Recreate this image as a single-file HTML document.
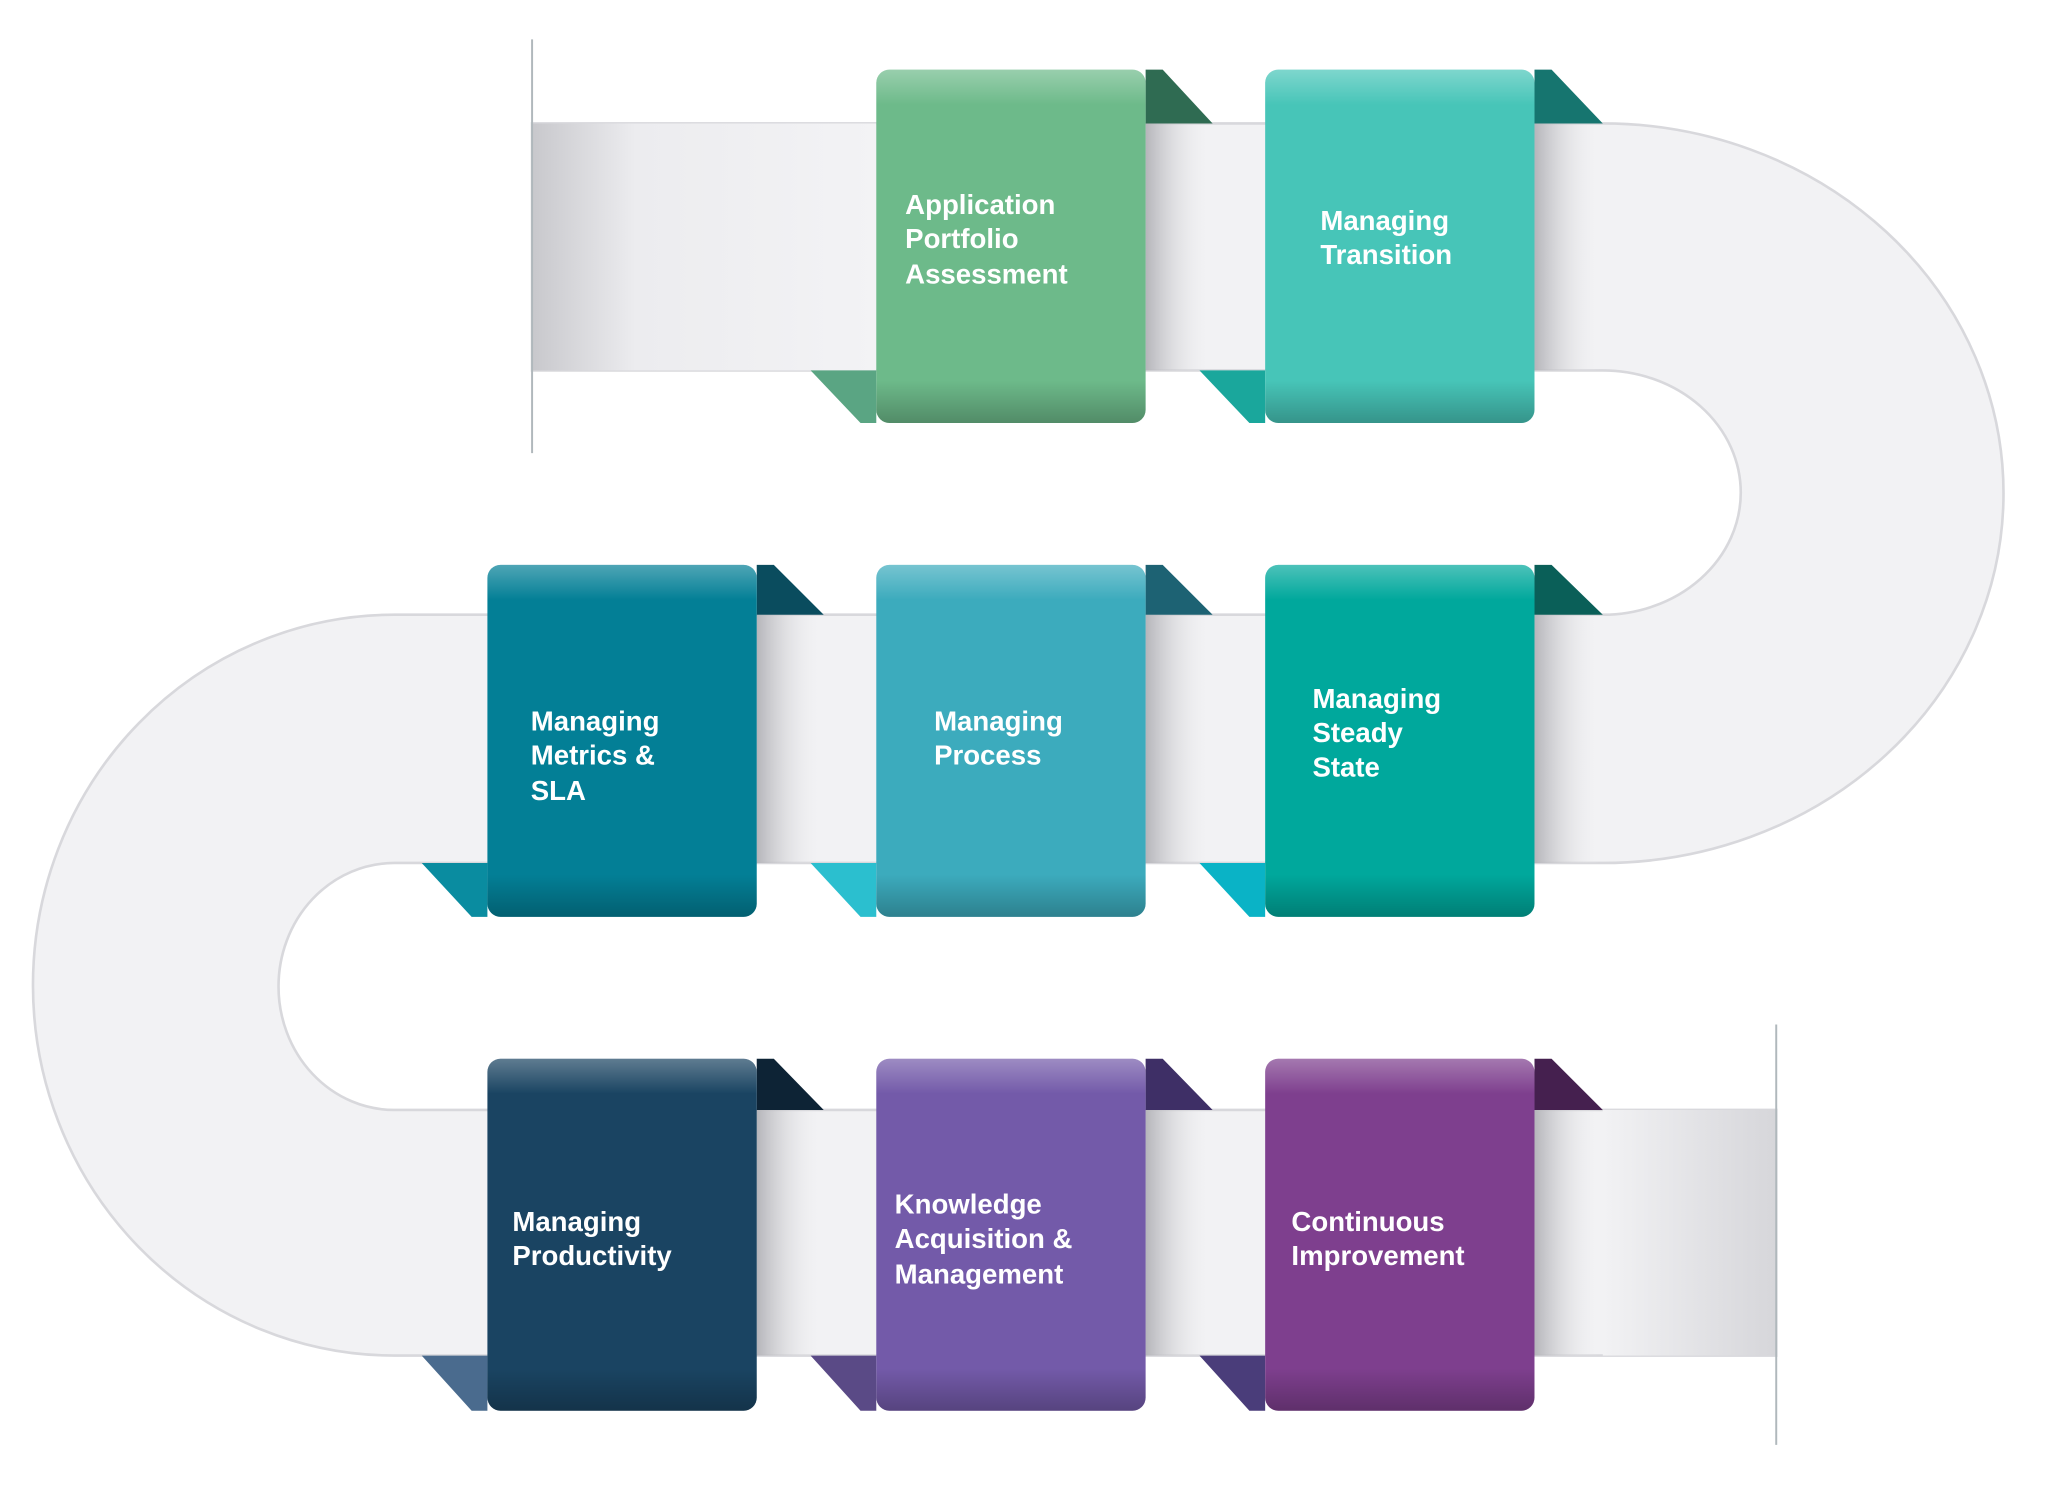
<!DOCTYPE html>
<html><head><meta charset="utf-8"><style>
html,body{margin:0;padding:0;background:#fff;}
svg{display:block;}
text{font-family:"Liberation Sans",sans-serif;font-weight:bold;fill:#fff;font-size:21px;}
</style></head><body>
<svg width="2060" height="1504" viewBox="0 0 1568 1145" preserveAspectRatio="none" xmlns="http://www.w3.org/2000/svg">
<defs>
<linearGradient id="band" x1="0" y1="0" x2="1" y2="0">
<stop offset="0" stop-color="#c8c8cc"/><stop offset="0.3" stop-color="#ececef"/><stop offset="1" stop-color="#f3f3f5"/>
</linearGradient>
<linearGradient id="endg" x1="0" y1="0" x2="1" y2="0">
<stop offset="0" stop-color="#f2f2f4"/><stop offset="1" stop-color="#d6d6da"/>
</linearGradient>
<linearGradient id="sh" x1="0" y1="0" x2="1" y2="0">
<stop offset="0" stop-color="#b5b5ba"/><stop offset="1" stop-color="#f2f2f4" stop-opacity="0"/>
</linearGradient>
<linearGradient id="top" x1="0" y1="0" x2="0" y2="1">
<stop offset="0" stop-color="#fff" stop-opacity="0.3"/><stop offset="0.1" stop-color="#fff" stop-opacity="0"/>
<stop offset="0.88" stop-color="#000" stop-opacity="0"/><stop offset="1" stop-color="#000" stop-opacity="0.25"/>
</linearGradient>
</defs>
<path d="M405 94 H1220 A305 281.5 0 0 1 1220 657 H300 A88 94 0 0 0 300 845 H1352 V1032 H300 A275 282 0 0 1 300 468 H1220 A105 93 0 0 0 1220 282 H405 Z" fill="#f2f2f4" stroke="#d8d8dc" stroke-width="2"/>
<rect x="405" y="94" width="262" height="188" fill="url(#band)"/>
<rect x="1220" y="845" width="132" height="187" fill="url(#endg)"/>
<line x1="405" y1="30" x2="405" y2="345" stroke="#b0b8bc" stroke-width="1.5"/>
<line x1="1352" y1="780" x2="1352" y2="1100" stroke="#b0b8bc" stroke-width="1.5"/>
<g fill="url(#sh)">
<rect x="872" y="94" width="50" height="188"/><rect x="1168" y="94" width="50" height="188"/>
<rect x="576" y="468" width="50" height="189"/><rect x="872" y="468" width="50" height="189"/><rect x="1168" y="468" width="50" height="189"/>
<rect x="576" y="845" width="50" height="187"/><rect x="872" y="845" width="50" height="187"/><rect x="1168" y="845" width="50" height="187"/>
</g>
<g>
<polygon points="872,53 885,53 923,94 872,94" fill="#2f6b52"/><polygon points="617,282 667,282 667,322 655,322" fill="#5aa583"/>
<rect x="667" y="53" width="205" height="269" rx="10" fill="#6dba8a"/><rect x="667" y="53" width="205" height="269" rx="10" fill="url(#top)"/>
</g>
<g>
<polygon points="1168,53 1181,53 1220,94 1168,94" fill="#16756f"/><polygon points="913,282 963,282 963,322 951,322" fill="#1aa79c"/>
<rect x="963" y="53" width="205" height="269" rx="10" fill="#47c5b8"/><rect x="963" y="53" width="205" height="269" rx="10" fill="url(#top)"/>
</g>
<g>
<polygon points="576,430 589,430 627,468 576,468" fill="#0a4c5e"/><polygon points="321,657 371,657 371,698 359,698" fill="#0a8ca0"/>
<rect x="371" y="430" width="205" height="268" rx="10" fill="#037f96"/><rect x="371" y="430" width="205" height="268" rx="10" fill="url(#top)"/>
</g>
<g>
<polygon points="872,430 885,430 923,468 872,468" fill="#1d6273"/><polygon points="617,657 667,657 667,698 655,698" fill="#2bbfcf"/>
<rect x="667" y="430" width="205" height="268" rx="10" fill="#3cabbd"/><rect x="667" y="430" width="205" height="268" rx="10" fill="url(#top)"/>
</g>
<g>
<polygon points="1168,430 1181,430 1220,468 1168,468" fill="#0a5f58"/><polygon points="913,657 963,657 963,698 951,698" fill="#0ab3c6"/>
<rect x="963" y="430" width="205" height="268" rx="10" fill="#00a89c"/><rect x="963" y="430" width="205" height="268" rx="10" fill="url(#top)"/>
</g>
<g>
<polygon points="576,806 589,806 627,845 576,845" fill="#0d2335"/><polygon points="321,1032 371,1032 371,1074 359,1074" fill="#4a6b8e"/>
<rect x="371" y="806" width="205" height="268" rx="10" fill="#1a4462"/><rect x="371" y="806" width="205" height="268" rx="10" fill="url(#top)"/>
</g>
<g>
<polygon points="872,806 885,806 923,845 872,845" fill="#3e2f66"/><polygon points="617,1032 667,1032 667,1074 655,1074" fill="#5a4a86"/>
<rect x="667" y="806" width="205" height="268" rx="10" fill="#735aa9"/><rect x="667" y="806" width="205" height="268" rx="10" fill="url(#top)"/>
</g>
<g>
<polygon points="1168,806 1181,806 1220,845 1168,845" fill="#45204f"/><polygon points="913,1032 963,1032 963,1074 951,1074" fill="#4a3d7a"/>
<rect x="963" y="806" width="205" height="268" rx="10" fill="#7e3f8e"/><rect x="963" y="806" width="205" height="268" rx="10" fill="url(#top)"/>
</g>
<text x="689" y="163">Application</text><text x="689" y="189">Portfolio</text><text x="689" y="216">Assessment</text>
<text x="1005" y="175">Managing</text><text x="1005" y="201">Transition</text>
<text x="404" y="556">Managing</text><text x="404" y="582">Metrics &amp;</text><text x="404" y="609">SLA</text>
<text x="711" y="556">Managing</text><text x="711" y="582">Process</text>
<text x="999" y="539">Managing</text><text x="999" y="565">Steady</text><text x="999" y="591">State</text>
<text x="390" y="937">Managing</text><text x="390" y="963">Productivity</text>
<text x="681" y="924">Knowledge</text><text x="681" y="950">Acquisition &amp;</text><text x="681" y="977">Management</text>
<text x="983" y="937">Continuous</text><text x="983" y="963">Improvement</text>
</svg>
</body></html>
